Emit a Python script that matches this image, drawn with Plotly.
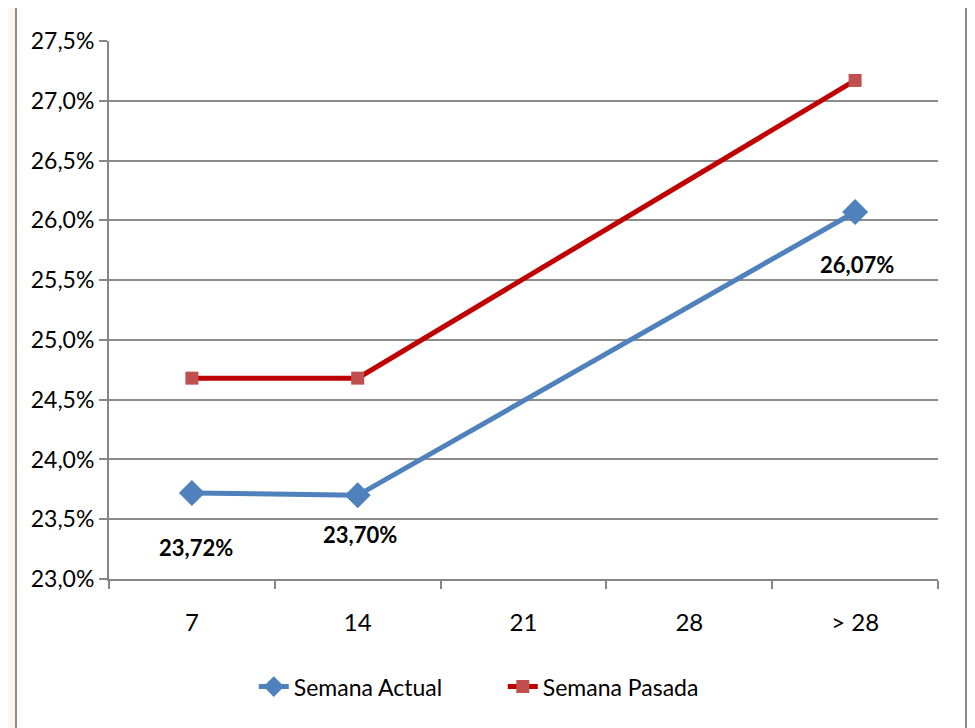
import plotly.graph_objects as go

categories = ["7", "14", "21", "28", "> 28"]
actual = [23.72, 23.70, None, None, 26.07]
pasada = [24.68, 24.68, None, None, 27.17]
label_text = ["23,72%", "23,70%", "26,07%"]
label_idx = [0, 1, 4]
label_shift = [-55, -39, -53]
y_ticks = [23.0, 23.5, 24.0, 24.5, 25.0, 25.5, 26.0, 26.5, 27.0, 27.5]
y_tick_text = ["23,0%", "23,5%", "24,0%", "24,5%", "25,0%", "25,5%", "26,0%", "26,5%", "27,0%", "27,5%"]

FONT = "Lato, Arial, sans-serif"

fig = go.Figure()
fig.add_trace(go.Scatter(
    x=categories, y=actual, name="Semana Actual", mode="lines+markers",
    connectgaps=True,
    line=dict(color="#4f81bd", width=5),
    marker=dict(symbol="diamond", size=20, color="#4f81bd"),
))
fig.add_trace(go.Scatter(
    x=categories, y=pasada, name="Semana Pasada", mode="lines+markers",
    connectgaps=True,
    line=dict(color="#c00000", width=5),
    marker=dict(symbol="square", size=13, color="#c0504d"),
))

for t, i, s in zip(label_text, label_idx, label_shift):
    fig.add_annotation(x=i, y=actual[i], text="<b>%s</b>" % t,
                       showarrow=False, yshift=s, xshift=4 if i == 0 else 2,
                       font=dict(family=FONT, size=22, color="#000000"))

# outer white chart box with gray border
fig.add_shape(type="rect", xref="paper", yref="paper",
              x0=-0.1122, x1=1.0338, y0=-0.32, y1=1.0632,
              line=dict(color="#8c8c8c", width=2), fillcolor="white", layer="below")

fig.update_layout(
    width=967, height=720,
    margin=dict(l=101, r=37, t=33, b=149),
    paper_bgcolor="#fbf5ee",
    plot_bgcolor="rgba(0,0,0,0)",
    font=dict(family=FONT, size=23, color="#000000"),
    showlegend=True,
    legend=dict(orientation="h", x=0.475, xanchor="center", y=-0.2, yanchor="middle",
                font=dict(family=FONT, size=23), bgcolor="rgba(0,0,0,0)",
                entrywidth=204, entrywidthmode="pixels"),
)
fig.update_xaxes(
    type="category", categoryorder="array", categoryarray=categories,
    showline=True, linecolor="#868686", linewidth=2,
    ticks="outside", tickson="boundaries", ticklen=8, tickcolor="#868686", tickwidth=2,
    ticklabelstandoff=21,
    showgrid=False, tickfont=dict(family=FONT, size=24), range=[-0.5, 4.5],
)
fig.update_yaxes(
    range=[23.0, 27.5], tickvals=y_ticks, ticktext=y_tick_text,
    showline=True, linecolor="#868686", linewidth=2,
    ticks="outside", ticklen=8, tickcolor="#868686", tickwidth=2,
    showgrid=True, gridcolor="#8c8c8c", gridwidth=2,
    tickfont=dict(family=FONT, size=23), zeroline=False,
)

fig.write_html("out.html")
